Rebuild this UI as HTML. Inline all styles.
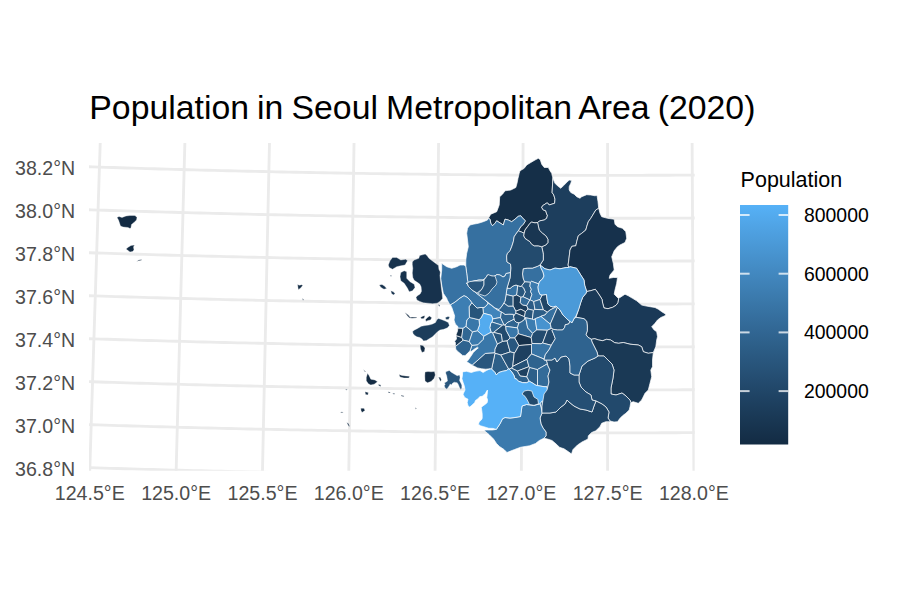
<!DOCTYPE html>
<html><head><meta charset="utf-8"><style>
html,body{margin:0;padding:0;background:#fff;}
svg{display:block;font-family:"Liberation Sans",sans-serif;}
</style></head><body>
<svg width="900" height="600" viewBox="0 0 900 600">
<defs>
<clipPath id="pc"><rect x="89.0" y="143.0" width="605.7" height="327.7"/></clipPath>
<linearGradient id="lg" x1="0" y1="1" x2="0" y2="0"><stop offset="0.00" stop-color="#132b43"/><stop offset="0.10" stop-color="#193753"/><stop offset="0.20" stop-color="#1f4364"/><stop offset="0.30" stop-color="#265075"/><stop offset="0.40" stop-color="#2c5d86"/><stop offset="0.50" stop-color="#336a98"/><stop offset="0.60" stop-color="#3a78aa"/><stop offset="0.70" stop-color="#4186bd"/><stop offset="0.80" stop-color="#4894d0"/><stop offset="0.90" stop-color="#4fa2e3"/><stop offset="1.00" stop-color="#56b1f7"/></linearGradient>
</defs>
<rect width="900" height="600" fill="#fff"/>
<text x="89.3" y="119.4" font-size="33.8px" word-spacing="-1.3px" fill="#000">Population in Seoul Metropolitan Area (2020)</text>
<g clip-path="url(#pc)" fill="none" stroke="#EBEBEB" stroke-width="2.85"><polyline points="88.51,510.59 88.64,506.30 88.78,502.01 88.91,497.71 89.05,493.42 89.18,489.13 89.31,484.83 89.45,480.54 89.58,476.25 89.72,471.95 89.85,467.66 89.99,463.37 90.12,459.07 90.26,454.78 90.39,450.49 90.53,446.19 90.66,441.90 90.80,437.61 90.93,433.31 91.07,429.02 91.20,424.73 91.34,420.43 91.47,416.14 91.61,411.85 91.75,407.55 91.88,403.26 92.02,398.97 92.15,394.67 92.29,390.38 92.42,386.09 92.56,381.79 92.70,377.50 92.83,373.21 92.97,368.91 93.11,364.62 93.24,360.33 93.38,356.03 93.51,351.74 93.65,347.45 93.79,343.15 93.92,338.86 94.06,334.56 94.20,330.27 94.33,325.98 94.47,321.68 94.61,317.39 94.75,313.10 94.88,308.80 95.02,304.51 95.16,300.22 95.29,295.92 95.43,291.63 95.57,287.33 95.71,283.04 95.84,278.75 95.98,274.45 96.12,270.16 96.26,265.87 96.39,261.57 96.53,257.28 96.67,252.98 96.81,248.69 96.95,244.40 97.08,240.10 97.22,235.81 97.36,231.51 97.50,227.22 97.64,222.93 97.78,218.63 97.91,214.34 98.05,210.05 98.19,205.75 98.33,201.46 98.47,197.16 98.61,192.87 98.75,188.58 98.89,184.28 99.02,179.99 99.16,175.69 99.30,171.40 99.44,167.11 99.58,162.81 99.72,158.52 99.86,154.22 100.00,149.93 100.14,145.64 100.28,141.34 100.42,137.05 100.56,132.75 100.70,128.46 100.84,124.16 100.98,119.87 101.12,115.58 101.26,111.28 101.40,106.99 101.54,102.69 101.68,98.40 101.82,94.11 101.96,89.81 102.10,85.52 102.24,81.22"/><polyline points="175.04,513.07 175.15,508.78 175.27,504.49 175.38,500.19 175.49,495.90 175.60,491.61 175.71,487.32 175.83,483.02 175.94,478.73 176.05,474.44 176.16,470.14 176.28,465.85 176.39,461.56 176.50,457.27 176.61,452.97 176.73,448.68 176.84,444.39 176.95,440.09 177.06,435.80 177.18,431.51 177.29,427.22 177.40,422.92 177.51,418.63 177.63,414.34 177.74,410.04 177.85,405.75 177.97,401.46 178.08,397.17 178.19,392.87 178.31,388.58 178.42,384.29 178.53,379.99 178.65,375.70 178.76,371.41 178.87,367.11 178.99,362.82 179.10,358.53 179.21,354.24 179.33,349.94 179.44,345.65 179.55,341.36 179.67,337.06 179.78,332.77 179.90,328.48 180.01,324.18 180.12,319.89 180.24,315.60 180.35,311.30 180.47,307.01 180.58,302.72 180.70,298.42 180.81,294.13 180.92,289.84 181.04,285.54 181.15,281.25 181.27,276.96 181.38,272.66 181.50,268.37 181.61,264.08 181.73,259.78 181.84,255.49 181.96,251.20 182.07,246.90 182.19,242.61 182.30,238.32 182.42,234.02 182.53,229.73 182.65,225.44 182.76,221.14 182.88,216.85 182.99,212.56 183.11,208.26 183.22,203.97 183.34,199.68 183.46,195.38 183.57,191.09 183.69,186.80 183.80,182.50 183.92,178.21 184.03,173.92 184.15,169.62 184.27,165.33 184.38,161.03 184.50,156.74 184.61,152.45 184.73,148.15 184.85,143.86 184.96,139.57 185.08,135.27 185.20,130.98 185.31,126.69 185.43,122.39 185.55,118.10 185.66,113.80 185.78,109.51 185.90,105.22 186.01,100.92 186.13,96.63 186.25,92.33 186.36,88.04 186.48,83.75"/><polyline points="261.57,515.10 261.66,510.81 261.75,506.51 261.84,502.22 261.93,497.93 262.02,493.64 262.11,489.35 262.19,485.05 262.28,480.76 262.37,476.47 262.46,472.18 262.55,467.88 262.64,463.59 262.73,459.30 262.82,455.01 262.91,450.71 263.00,446.42 263.09,442.13 263.18,437.84 263.27,433.54 263.36,429.25 263.45,424.96 263.54,420.67 263.63,416.37 263.73,412.08 263.82,407.79 263.91,403.50 264.00,399.20 264.09,394.91 264.18,390.62 264.27,386.33 264.36,382.03 264.45,377.74 264.54,373.45 264.63,369.16 264.72,364.86 264.81,360.57 264.90,356.28 264.99,351.98 265.09,347.69 265.18,343.40 265.27,339.11 265.36,334.81 265.45,330.52 265.54,326.23 265.63,321.94 265.72,317.64 265.81,313.35 265.91,309.06 266.00,304.76 266.09,300.47 266.18,296.18 266.27,291.89 266.36,287.59 266.46,283.30 266.55,279.01 266.64,274.71 266.73,270.42 266.82,266.13 266.91,261.84 267.01,257.54 267.10,253.25 267.19,248.96 267.28,244.66 267.37,240.37 267.47,236.08 267.56,231.78 267.65,227.49 267.74,223.20 267.83,218.90 267.93,214.61 268.02,210.32 268.11,206.03 268.20,201.73 268.30,197.44 268.39,193.15 268.48,188.85 268.57,184.56 268.67,180.27 268.76,175.97 268.85,171.68 268.94,167.39 269.04,163.09 269.13,158.80 269.22,154.51 269.32,150.21 269.41,145.92 269.50,141.63 269.59,137.33 269.69,133.04 269.78,128.75 269.87,124.45 269.97,120.16 270.06,115.87 270.15,111.57 270.25,107.28 270.34,102.99 270.43,98.69 270.53,94.40 270.62,90.11 270.71,85.81"/><polyline points="348.09,516.67 348.15,512.38 348.22,508.09 348.29,503.80 348.35,499.51 348.42,495.22 348.49,490.92 348.56,486.63 348.62,482.34 348.69,478.05 348.76,473.76 348.82,469.46 348.89,465.17 348.96,460.88 349.03,456.59 349.09,452.29 349.16,448.00 349.23,443.71 349.30,439.42 349.36,435.13 349.43,430.83 349.50,426.54 349.57,422.25 349.64,417.96 349.70,413.67 349.77,409.37 349.84,405.08 349.91,400.79 349.97,396.50 350.04,392.20 350.11,387.91 350.18,383.62 350.25,379.33 350.31,375.03 350.38,370.74 350.45,366.45 350.52,362.16 350.59,357.87 350.65,353.57 350.72,349.28 350.79,344.99 350.86,340.70 350.93,336.40 351.00,332.11 351.06,327.82 351.13,323.53 351.20,319.23 351.27,314.94 351.34,310.65 351.41,306.36 351.48,302.06 351.54,297.77 351.61,293.48 351.68,289.19 351.75,284.89 351.82,280.60 351.89,276.31 351.96,272.01 352.03,267.72 352.09,263.43 352.16,259.14 352.23,254.84 352.30,250.55 352.37,246.26 352.44,241.97 352.51,237.67 352.58,233.38 352.65,229.09 352.72,224.79 352.78,220.50 352.85,216.21 352.92,211.92 352.99,207.62 353.06,203.33 353.13,199.04 353.20,194.74 353.27,190.45 353.34,186.16 353.41,181.87 353.48,177.57 353.55,173.28 353.62,168.99 353.69,164.69 353.76,160.40 353.83,156.11 353.90,151.81 353.96,147.52 354.03,143.23 354.10,138.94 354.17,134.64 354.24,130.35 354.31,126.06 354.38,121.76 354.45,117.47 354.52,113.18 354.59,108.88 354.66,104.59 354.73,100.30 354.80,96.00 354.87,91.71 354.94,87.42"/><polyline points="434.60,517.80 434.64,513.51 434.69,509.22 434.73,504.93 434.78,500.63 434.82,496.34 434.87,492.05 434.91,487.76 434.96,483.47 435.00,479.17 435.05,474.88 435.09,470.59 435.14,466.30 435.18,462.01 435.22,457.72 435.27,453.42 435.31,449.13 435.36,444.84 435.40,440.55 435.45,436.26 435.50,431.96 435.54,427.67 435.59,423.38 435.63,419.09 435.68,414.80 435.72,410.50 435.77,406.21 435.81,401.92 435.86,397.63 435.90,393.34 435.95,389.04 435.99,384.75 436.04,380.46 436.08,376.17 436.13,371.88 436.17,367.58 436.22,363.29 436.26,359.00 436.31,354.71 436.36,350.42 436.40,346.12 436.45,341.83 436.49,337.54 436.54,333.25 436.58,328.95 436.63,324.66 436.67,320.37 436.72,316.08 436.77,311.78 436.81,307.49 436.86,303.20 436.90,298.91 436.95,294.62 436.99,290.32 437.04,286.03 437.09,281.74 437.13,277.45 437.18,273.15 437.22,268.86 437.27,264.57 437.32,260.28 437.36,255.98 437.41,251.69 437.45,247.40 437.50,243.11 437.55,238.81 437.59,234.52 437.64,230.23 437.68,225.94 437.73,221.64 437.78,217.35 437.82,213.06 437.87,208.76 437.91,204.47 437.96,200.18 438.01,195.89 438.05,191.59 438.10,187.30 438.15,183.01 438.19,178.72 438.24,174.42 438.28,170.13 438.33,165.84 438.38,161.54 438.42,157.25 438.47,152.96 438.52,148.67 438.56,144.37 438.61,140.08 438.66,135.79 438.70,131.49 438.75,127.20 438.80,122.91 438.84,118.62 438.89,114.32 438.94,110.03 438.98,105.74 439.03,101.44 439.08,97.15 439.12,92.86 439.17,88.56"/><polyline points="521.11,518.48 521.13,514.18 521.15,509.89 521.17,505.60 521.19,501.31 521.22,497.02 521.24,492.73 521.26,488.43 521.28,484.14 521.31,479.85 521.33,475.56 521.35,471.27 521.37,466.98 521.40,462.68 521.42,458.39 521.44,454.10 521.46,449.81 521.49,445.52 521.51,441.23 521.53,436.93 521.55,432.64 521.58,428.35 521.60,424.06 521.62,419.77 521.64,415.48 521.67,411.18 521.69,406.89 521.71,402.60 521.73,398.31 521.76,394.02 521.78,389.72 521.80,385.43 521.83,381.14 521.85,376.85 521.87,372.56 521.89,368.26 521.92,363.97 521.94,359.68 521.96,355.39 521.98,351.10 522.01,346.80 522.03,342.51 522.05,338.22 522.08,333.93 522.10,329.63 522.12,325.34 522.14,321.05 522.17,316.76 522.19,312.47 522.21,308.17 522.24,303.88 522.26,299.59 522.28,295.30 522.30,291.01 522.33,286.71 522.35,282.42 522.37,278.13 522.40,273.84 522.42,269.54 522.44,265.25 522.46,260.96 522.49,256.67 522.51,252.37 522.53,248.08 522.56,243.79 522.58,239.50 522.60,235.20 522.63,230.91 522.65,226.62 522.67,222.33 522.69,218.03 522.72,213.74 522.74,209.45 522.76,205.16 522.79,200.86 522.81,196.57 522.83,192.28 522.86,187.99 522.88,183.69 522.90,179.40 522.93,175.11 522.95,170.82 522.97,166.52 523.00,162.23 523.02,157.94 523.04,153.64 523.06,149.35 523.09,145.06 523.11,140.77 523.13,136.47 523.16,132.18 523.18,127.89 523.20,123.60 523.23,119.30 523.25,115.01 523.27,110.72 523.30,106.42 523.32,102.13 523.34,97.84 523.37,93.54 523.39,89.25"/><polyline points="607.61,518.70 607.61,514.41 607.61,510.12 607.61,505.83 607.61,501.53 607.61,497.24 607.61,492.95 607.61,488.66 607.61,484.37 607.61,480.08 607.61,475.79 607.61,471.49 607.61,467.20 607.61,462.91 607.61,458.62 607.61,454.33 607.61,450.04 607.61,445.74 607.61,441.45 607.61,437.16 607.61,432.87 607.61,428.58 607.61,424.28 607.61,419.99 607.61,415.70 607.61,411.41 607.61,407.12 607.61,402.83 607.61,398.53 607.61,394.24 607.61,389.95 607.61,385.66 607.61,381.37 607.61,377.07 607.61,372.78 607.61,368.49 607.61,364.20 607.61,359.91 607.61,355.61 607.61,351.32 607.61,347.03 607.61,342.74 607.61,338.45 607.61,334.15 607.61,329.86 607.61,325.57 607.61,321.28 607.61,316.99 607.61,312.69 607.61,308.40 607.61,304.11 607.61,299.82 607.61,295.52 607.61,291.23 607.61,286.94 607.61,282.65 607.61,278.36 607.61,274.06 607.61,269.77 607.61,265.48 607.61,261.19 607.61,256.89 607.61,252.60 607.61,248.31 607.61,244.02 607.61,239.72 607.61,235.43 607.61,231.14 607.61,226.85 607.61,222.55 607.61,218.26 607.61,213.97 607.61,209.68 607.61,205.38 607.61,201.09 607.61,196.80 607.61,192.51 607.61,188.21 607.61,183.92 607.61,179.63 607.61,175.34 607.61,171.04 607.61,166.75 607.61,162.46 607.61,158.17 607.61,153.87 607.61,149.58 607.61,145.29 607.61,141.00 607.61,136.70 607.61,132.41 607.61,128.12 607.61,123.82 607.61,119.53 607.61,115.24 607.61,110.95 607.61,106.65 607.61,102.36 607.61,98.07 607.61,93.77 607.61,89.48"/><polyline points="694.12,518.48 694.10,514.18 694.07,509.89 694.05,505.60 694.03,501.31 694.01,497.02 693.98,492.73 693.96,488.43 693.94,484.14 693.92,479.85 693.89,475.56 693.87,471.27 693.85,466.98 693.83,462.68 693.80,458.39 693.78,454.10 693.76,449.81 693.74,445.52 693.71,441.23 693.69,436.93 693.67,432.64 693.65,428.35 693.62,424.06 693.60,419.77 693.58,415.48 693.56,411.18 693.53,406.89 693.51,402.60 693.49,398.31 693.47,394.02 693.44,389.72 693.42,385.43 693.40,381.14 693.38,376.85 693.35,372.56 693.33,368.26 693.31,363.97 693.28,359.68 693.26,355.39 693.24,351.10 693.22,346.80 693.19,342.51 693.17,338.22 693.15,333.93 693.12,329.63 693.10,325.34 693.08,321.05 693.06,316.76 693.03,312.47 693.01,308.17 692.99,303.88 692.97,299.59 692.94,295.30 692.92,291.01 692.90,286.71 692.87,282.42 692.85,278.13 692.83,273.84 692.80,269.54 692.78,265.25 692.76,260.96 692.74,256.67 692.71,252.37 692.69,248.08 692.67,243.79 692.64,239.50 692.62,235.20 692.60,230.91 692.57,226.62 692.55,222.33 692.53,218.03 692.51,213.74 692.48,209.45 692.46,205.16 692.44,200.86 692.41,196.57 692.39,192.28 692.37,187.99 692.34,183.69 692.32,179.40 692.30,175.11 692.27,170.82 692.25,166.52 692.23,162.23 692.20,157.94 692.18,153.64 692.16,149.35 692.14,145.06 692.11,140.77 692.09,136.47 692.07,132.18 692.04,127.89 692.02,123.60 692.00,119.30 691.97,115.01 691.95,110.72 691.93,106.42 691.90,102.13 691.88,97.84 691.86,93.54 691.83,89.25"/><polyline points="55.33,466.54 62.23,466.77 69.14,467.00 76.04,467.22 82.95,467.44 89.85,467.66 96.76,467.88 103.66,468.09 110.57,468.30 117.47,468.51 124.38,468.71 131.28,468.91 138.19,469.11 145.09,469.30 152.00,469.49 158.90,469.68 165.81,469.87 172.71,470.05 179.62,470.23 186.52,470.41 193.42,470.59 200.33,470.76 207.23,470.93 214.14,471.09 221.04,471.26 227.94,471.42 234.85,471.58 241.75,471.73 248.66,471.88 255.56,472.03 262.46,472.18 269.37,472.32 276.27,472.46 283.18,472.60 290.08,472.73 296.98,472.86 303.89,472.99 310.79,473.12 317.69,473.24 324.60,473.36 331.50,473.48 338.40,473.59 345.31,473.70 352.21,473.81 359.11,473.91 366.02,474.02 372.92,474.12 379.82,474.21 386.72,474.31 393.63,474.40 400.53,474.49 407.43,474.57 414.34,474.65 421.24,474.73 428.14,474.81 435.05,474.88 441.95,474.95 448.85,475.02 455.75,475.09 462.66,475.15 469.56,475.21 476.46,475.26 483.36,475.32 490.27,475.37 497.17,475.42 504.07,475.46 510.98,475.50 517.88,475.54 524.78,475.58 531.68,475.61 538.59,475.64 545.49,475.67 552.39,475.69 559.29,475.71 566.20,475.73 573.10,475.75 580.00,475.76 586.90,475.77 593.81,475.78 600.71,475.78 607.61,475.79 614.51,475.78 621.42,475.78 628.32,475.77 635.22,475.76 642.12,475.75 649.03,475.73 655.93,475.71 662.83,475.69 669.73,475.67 676.64,475.64 683.54,475.61 690.44,475.58 697.35,475.54 704.25,475.50 711.15,475.46 718.05,475.42 724.96,475.37 731.86,475.32 738.76,475.26 745.66,475.21"/><polyline points="56.77,423.61 63.65,423.84 70.54,424.06 77.43,424.29 84.32,424.51 91.20,424.73 98.09,424.94 104.98,425.16 111.86,425.37 118.75,425.57 125.64,425.78 132.53,425.98 139.41,426.18 146.30,426.37 153.19,426.57 160.07,426.75 166.96,426.94 173.85,427.13 180.73,427.31 187.62,427.48 194.50,427.66 201.39,427.83 208.28,428.00 215.16,428.17 222.05,428.33 228.93,428.49 235.82,428.65 242.71,428.80 249.59,428.96 256.48,429.11 263.36,429.25 270.25,429.39 277.14,429.54 284.02,429.67 290.91,429.81 297.79,429.94 304.68,430.07 311.56,430.19 318.45,430.32 325.33,430.44 332.22,430.55 339.10,430.67 345.99,430.78 352.87,430.89 359.76,430.99 366.65,431.10 373.53,431.20 380.42,431.29 387.30,431.39 394.19,431.48 401.07,431.57 407.96,431.65 414.84,431.73 421.73,431.81 428.61,431.89 435.50,431.96 442.38,432.04 449.26,432.10 456.15,432.17 463.03,432.23 469.92,432.29 476.80,432.35 483.69,432.40 490.57,432.45 497.46,432.50 504.34,432.54 511.23,432.58 518.11,432.62 525.00,432.66 531.88,432.69 538.77,432.72 545.65,432.75 552.54,432.78 559.42,432.80 566.30,432.82 573.19,432.83 580.07,432.85 586.96,432.86 593.84,432.86 600.73,432.87 607.61,432.87 614.50,432.87 621.38,432.86 628.27,432.86 635.15,432.85 642.03,432.83 648.92,432.82 655.80,432.80 662.69,432.78 669.57,432.75 676.46,432.72 683.34,432.69 690.23,432.66 697.11,432.62 704.00,432.58 710.88,432.54 717.77,432.50 724.65,432.45 731.53,432.40 738.42,432.35 745.30,432.29"/><polyline points="58.21,380.67 65.08,380.90 71.95,381.13 78.82,381.35 85.69,381.57 92.56,381.79 99.43,382.01 106.30,382.22 113.17,382.43 120.04,382.64 126.91,382.85 133.77,383.05 140.64,383.25 147.51,383.44 154.38,383.63 161.25,383.82 168.12,384.01 174.98,384.20 181.85,384.38 188.72,384.56 195.59,384.73 202.46,384.90 209.33,385.07 216.19,385.24 223.06,385.40 229.93,385.56 236.80,385.72 243.67,385.88 250.53,386.03 257.40,386.18 264.27,386.33 271.14,386.47 278.00,386.61 284.87,386.75 291.74,386.88 298.61,387.01 305.47,387.14 312.34,387.27 319.21,387.39 326.08,387.51 332.94,387.63 339.81,387.75 346.68,387.86 353.54,387.97 360.41,388.07 367.28,388.17 374.14,388.27 381.01,388.37 387.88,388.47 394.75,388.56 401.61,388.65 408.48,388.73 415.35,388.81 422.21,388.89 429.08,388.97 435.95,389.04 442.81,389.12 449.68,389.18 456.55,389.25 463.41,389.31 470.28,389.37 477.15,389.43 484.01,389.48 490.88,389.53 497.75,389.58 504.61,389.62 511.48,389.67 518.35,389.71 525.21,389.74 532.08,389.77 538.95,389.81 545.81,389.83 552.68,389.86 559.55,389.88 566.41,389.90 573.28,389.91 580.15,389.93 587.01,389.94 593.88,389.94 600.75,389.95 607.61,389.95 614.48,389.95 621.34,389.94 628.21,389.94 635.08,389.93 641.94,389.91 648.81,389.90 655.68,389.88 662.54,389.86 669.41,389.83 676.28,389.81 683.14,389.77 690.01,389.74 696.88,389.71 703.74,389.67 710.61,389.62 717.48,389.58 724.34,389.53 731.21,389.48 738.08,389.43 744.94,389.37"/><polyline points="59.67,337.73 66.52,337.96 73.37,338.19 80.22,338.42 87.07,338.64 93.92,338.86 100.78,339.07 107.63,339.29 114.48,339.50 121.33,339.71 128.18,339.91 135.03,340.11 141.88,340.31 148.73,340.51 155.58,340.70 162.43,340.89 169.28,341.08 176.13,341.26 182.98,341.45 189.83,341.63 196.68,341.80 203.53,341.97 210.38,342.14 217.23,342.31 224.08,342.48 230.93,342.64 237.78,342.80 244.63,342.95 251.48,343.10 258.33,343.25 265.18,343.40 272.03,343.54 278.88,343.68 285.72,343.82 292.57,343.96 299.42,344.09 306.27,344.22 313.12,344.35 319.97,344.47 326.82,344.59 333.67,344.71 340.52,344.82 347.37,344.93 354.22,345.04 361.06,345.15 367.91,345.25 374.76,345.35 381.61,345.45 388.46,345.54 395.31,345.63 402.16,345.72 409.01,345.81 415.86,345.89 422.70,345.97 429.55,346.05 436.40,346.12 443.25,346.19 450.10,346.26 456.95,346.33 463.80,346.39 470.64,346.45 477.49,346.51 484.34,346.56 491.19,346.61 498.04,346.66 504.89,346.70 511.73,346.75 518.58,346.78 525.43,346.82 532.28,346.85 539.13,346.89 545.98,346.91 552.82,346.94 559.67,346.96 566.52,346.98 573.37,346.99 580.22,347.01 587.07,347.02 593.91,347.02 600.76,347.03 607.61,347.03 614.46,347.03 621.31,347.02 628.16,347.02 635.00,347.01 641.85,346.99 648.70,346.98 655.55,346.96 662.40,346.94 669.25,346.91 676.10,346.89 682.94,346.85 689.79,346.82 696.64,346.78 703.49,346.75 710.34,346.70 717.19,346.66 724.03,346.61 730.88,346.56 737.73,346.51 744.58,346.45"/><polyline points="61.13,294.79 67.96,295.02 74.80,295.25 81.63,295.48 88.46,295.70 95.29,295.92 102.13,296.14 108.96,296.35 115.79,296.56 122.62,296.77 129.46,296.98 136.29,297.18 143.12,297.38 149.95,297.58 156.78,297.77 163.62,297.96 170.45,298.15 177.28,298.33 184.11,298.51 190.94,298.69 197.78,298.87 204.61,299.04 211.44,299.21 218.27,299.38 225.10,299.55 231.93,299.71 238.76,299.87 245.60,300.02 252.43,300.17 259.26,300.32 266.09,300.47 272.92,300.62 279.75,300.76 286.58,300.89 293.41,301.03 300.24,301.16 307.08,301.29 313.91,301.42 320.74,301.54 327.57,301.66 334.40,301.78 341.23,301.90 348.06,302.01 354.89,302.12 361.72,302.22 368.55,302.33 375.38,302.43 382.21,302.52 389.04,302.62 395.87,302.71 402.71,302.80 409.54,302.89 416.37,302.97 423.20,303.05 430.03,303.13 436.86,303.20 443.69,303.27 450.52,303.34 457.35,303.41 464.18,303.47 471.01,303.53 477.84,303.58 484.67,303.64 491.50,303.69 498.33,303.74 505.16,303.78 511.99,303.82 518.82,303.86 525.65,303.90 532.48,303.93 539.31,303.96 546.14,303.99 552.97,304.02 559.80,304.04 566.63,304.06 573.46,304.07 580.29,304.09 587.12,304.10 593.95,304.10 600.78,304.11 607.61,304.11 614.44,304.11 621.27,304.10 628.10,304.10 634.93,304.09 641.76,304.07 648.59,304.06 655.42,304.04 662.25,304.02 669.08,303.99 675.91,303.96 682.74,303.93 689.57,303.90 696.40,303.86 703.23,303.82 710.06,303.78 716.89,303.74 723.72,303.69 730.55,303.64 737.38,303.58 744.21,303.53"/><polyline points="62.60,251.85 69.41,252.08 76.23,252.31 83.04,252.54 89.86,252.76 96.67,252.98 103.48,253.20 110.30,253.42 117.11,253.63 123.93,253.84 130.74,254.04 137.55,254.24 144.37,254.44 151.18,254.64 158.00,254.84 164.81,255.03 171.62,255.21 178.44,255.40 185.25,255.58 192.06,255.76 198.88,255.94 205.69,256.11 212.50,256.28 219.32,256.45 226.13,256.61 232.94,256.78 239.75,256.94 246.57,257.09 253.38,257.24 260.19,257.39 267.01,257.54 273.82,257.69 280.63,257.83 287.44,257.97 294.26,258.10 301.07,258.23 307.88,258.36 314.69,258.49 321.51,258.62 328.32,258.74 335.13,258.85 341.94,258.97 348.76,259.08 355.57,259.19 362.38,259.30 369.19,259.40 376.01,259.50 382.82,259.60 389.63,259.69 396.44,259.79 403.25,259.87 410.07,259.96 416.88,260.04 423.69,260.12 430.50,260.20 437.32,260.28 444.13,260.35 450.94,260.42 457.75,260.48 464.56,260.54 471.38,260.60 478.19,260.66 485.00,260.71 491.81,260.77 498.62,260.81 505.43,260.86 512.25,260.90 519.06,260.94 525.87,260.98 532.68,261.01 539.49,261.04 546.31,261.07 553.12,261.09 559.93,261.12 566.74,261.13 573.55,261.15 580.36,261.16 587.18,261.17 593.99,261.18 600.80,261.19 607.61,261.19 614.42,261.19 621.24,261.18 628.05,261.17 634.86,261.16 641.67,261.15 648.48,261.13 655.29,261.12 662.11,261.09 668.92,261.07 675.73,261.04 682.54,261.01 689.35,260.98 696.16,260.94 702.98,260.90 709.79,260.86 716.60,260.81 723.41,260.77 730.22,260.71 737.04,260.66 743.85,260.60"/><polyline points="64.07,208.91 70.87,209.14 77.67,209.37 84.46,209.60 91.26,209.82 98.05,210.05 104.85,210.26 111.64,210.48 118.44,210.69 125.23,210.90 132.03,211.10 138.83,211.31 145.62,211.51 152.42,211.71 159.21,211.90 166.01,212.09 172.80,212.28 179.60,212.47 186.39,212.65 193.19,212.83 199.98,213.00 206.78,213.18 213.57,213.35 220.37,213.52 227.16,213.68 233.95,213.84 240.75,214.00 247.54,214.16 254.34,214.31 261.13,214.46 267.93,214.61 274.72,214.76 281.52,214.90 288.31,215.04 295.10,215.17 301.90,215.31 308.69,215.44 315.49,215.56 322.28,215.69 329.07,215.81 335.87,215.93 342.66,216.04 349.46,216.15 356.25,216.26 363.04,216.37 369.84,216.47 376.63,216.57 383.43,216.67 390.22,216.77 397.01,216.86 403.81,216.95 410.60,217.03 417.39,217.12 424.19,217.20 430.98,217.28 437.78,217.35 444.57,217.42 451.36,217.49 458.16,217.56 464.95,217.62 471.74,217.68 478.54,217.74 485.33,217.79 492.12,217.84 498.92,217.89 505.71,217.93 512.50,217.98 519.30,218.02 526.09,218.05 532.88,218.09 539.68,218.12 546.47,218.14 553.26,218.17 560.06,218.19 566.85,218.21 573.64,218.23 580.44,218.24 587.23,218.25 594.02,218.26 600.82,218.26 607.61,218.26 614.40,218.26 621.20,218.26 627.99,218.25 634.79,218.24 641.58,218.23 648.37,218.21 655.17,218.19 661.96,218.17 668.75,218.14 675.55,218.12 682.34,218.09 689.13,218.05 695.93,218.02 702.72,217.98 709.51,217.93 716.31,217.89 723.10,217.84 729.89,217.79 736.69,217.74 743.48,217.68"/><polyline points="65.56,165.97 72.33,166.20 79.11,166.43 85.89,166.66 92.66,166.88 99.44,167.11 106.22,167.32 113.00,167.54 119.77,167.75 126.55,167.96 133.33,168.17 140.10,168.37 146.88,168.57 153.66,168.77 160.43,168.96 167.21,169.16 173.99,169.34 180.76,169.53 187.54,169.71 194.32,169.89 201.09,170.07 207.87,170.24 214.64,170.42 221.42,170.58 228.20,170.75 234.97,170.91 241.75,171.07 248.52,171.23 255.30,171.38 262.08,171.53 268.85,171.68 275.63,171.82 282.40,171.97 289.18,172.11 295.95,172.24 302.73,172.37 309.51,172.50 316.28,172.63 323.06,172.76 329.83,172.88 336.61,173.00 343.38,173.11 350.16,173.22 356.93,173.33 363.71,173.44 370.49,173.55 377.26,173.65 384.04,173.74 390.81,173.84 397.59,173.93 404.36,174.02 411.14,174.11 417.91,174.19 424.69,174.27 431.46,174.35 438.24,174.42 445.01,174.49 451.79,174.56 458.56,174.63 465.34,174.69 472.11,174.75 478.89,174.81 485.66,174.86 492.44,174.91 499.21,174.96 505.99,175.01 512.76,175.05 519.54,175.09 526.31,175.13 533.09,175.16 539.86,175.19 546.64,175.22 553.41,175.24 560.19,175.27 566.96,175.28 573.74,175.30 580.51,175.31 587.29,175.32 594.06,175.33 600.84,175.34 607.61,175.34 614.39,175.34 621.16,175.33 627.94,175.32 634.71,175.31 641.49,175.30 648.26,175.28 655.04,175.27 661.81,175.24 668.59,175.22 675.36,175.19 682.14,175.16 688.91,175.13 695.69,175.09 702.46,175.05 709.24,175.01 716.01,174.96 722.78,174.91 729.56,174.86 736.33,174.81 743.11,174.75"/></g>
<g font-size="19.6px" fill="#4D4D4D"><text x="75.2" y="468.54" text-anchor="end" dominant-baseline="central">36.8°N</text><text x="75.2" y="425.56" text-anchor="end" dominant-baseline="central">37.0°N</text><text x="75.2" y="382.58" text-anchor="end" dominant-baseline="central">37.2°N</text><text x="75.2" y="339.60" text-anchor="end" dominant-baseline="central">37.4°N</text><text x="75.2" y="296.62" text-anchor="end" dominant-baseline="central">37.6°N</text><text x="75.2" y="253.64" text-anchor="end" dominant-baseline="central">37.8°N</text><text x="75.2" y="210.65" text-anchor="end" dominant-baseline="central">38.0°N</text><text x="75.2" y="167.66" text-anchor="end" dominant-baseline="central">38.2°N</text><text x="89.76" y="492.6" text-anchor="middle" dominant-baseline="central">124.5°E</text><text x="176.15" y="492.6" text-anchor="middle" dominant-baseline="central">125.0°E</text><text x="262.50" y="492.6" text-anchor="middle" dominant-baseline="central">125.5°E</text><text x="348.81" y="492.6" text-anchor="middle" dominant-baseline="central">126.0°E</text><text x="435.09" y="492.6" text-anchor="middle" dominant-baseline="central">126.5°E</text><text x="521.35" y="492.6" text-anchor="middle" dominant-baseline="central">127.0°E</text><text x="607.61" y="492.6" text-anchor="middle" dominant-baseline="central">127.5°E</text><text x="693.87" y="492.6" text-anchor="middle" dominant-baseline="central">128.0°E</text></g>
<g stroke="#fff" stroke-width="0.7" stroke-linejoin="round"><path fill="#3670a0" d="M541.00,268.00 L540.00,265.00 L537.50,266.30 L532.50,268.10 L527.50,268.10 L524.18,268.63 L523.10,268.80 L522.50,274.00 L523.00,278.00 L524.43,281.81 L530.46,282.31 L531.50,281.34 L538.77,283.93 L539.00,283.00 L540.00,281.00 L542.50,279.00 L544.00,276.00 L543.00,272.00 L541.05,268.10Z"/><path fill="#2b5a82" d="M524.43,281.81 L524.50,282.00 L523.00,284.00 L521.28,286.15 L523.51,287.87 L525.22,291.98 L523.02,296.74 L529.82,299.91 L530.03,299.85 L531.94,294.51 L530.56,291.49 L531.36,289.23 L529.89,286.28 L530.46,282.31Z"/><path fill="#3b7aae" d="M538.00,287.00 L538.77,283.93 L531.50,281.34 L530.46,282.31 L529.89,286.28 L531.36,289.23 L530.56,291.49 L531.94,294.51 L530.03,299.85 L533.73,301.59 L540.00,299.50 L542.26,294.97 L542.00,295.00 L540.00,294.50 L539.70,293.80 L538.50,291.00 L538.12,288.00Z"/><path fill="#29577e" d="M516.56,294.97 L520.91,297.35 L523.02,296.74 L525.22,291.98 L523.51,287.87 L521.28,286.15 L521.00,286.50 L519.00,286.00 L517.61,285.54Z"/><path fill="#3773a4" d="M516.00,285.00 L513.00,286.00 L510.00,288.50 L507.00,288.00 L506.07,294.52 L513.15,296.20 L516.56,294.97 L517.61,285.54Z"/><path fill="#2a587f" d="M508.06,306.25 L513.15,306.25 L513.15,296.20 L506.07,294.52 L506.00,295.00 L505.00,301.00 L503.80,303.00Z"/><path fill="#1d3e5d" d="M520.91,297.35 L516.56,294.97 L513.15,296.20 L513.15,306.25 L513.39,306.39 L515.77,311.22 L520.86,309.26 L525.45,311.75 L528.04,309.01 L526.76,305.59 L522.49,304.91 L520.27,302.59Z"/><path fill="#1b3b58" d="M515.77,311.22 L515.69,313.10 L524.45,316.75 L525.45,311.75 L520.86,309.26Z"/><path fill="#346c9a" d="M522.49,304.91 L526.76,305.59 L529.82,299.91 L523.02,296.74 L520.91,297.35 L520.27,302.59Z"/><path fill="#2c5c86" d="M526.76,305.59 L528.04,309.01 L533.45,310.36 L534.92,309.38 L533.73,301.59 L530.03,299.85 L529.82,299.91Z"/><path fill="#306591" d="M543.44,309.81 L540.00,299.50 L533.73,301.59 L534.92,309.38Z"/><path fill="#204567" d="M547.28,312.27 L550.00,310.00 L553.00,308.50 L556.00,307.00 L556.80,306.80 L556.00,306.00 L553.00,307.00 L550.00,306.00 L548.00,304.00 L547.00,299.00 L546.50,294.50 L542.26,294.97 L540.00,299.50 L543.44,309.81Z"/><path fill="#28557b" d="M524.45,316.75 L524.95,317.85 L525.00,317.70 L528.30,318.30 L531.70,319.00 L532.35,319.23 L533.45,310.36 L528.04,309.01 L525.45,311.75Z"/><path fill="#2d5e87" d="M533.45,310.36 L532.35,319.23 L533.70,319.70 L536.30,318.30 L539.70,317.00 L542.30,315.70 L545.00,315.00 L547.00,312.50 L547.28,312.27 L543.44,309.81 L534.92,309.38Z"/><path fill="#234b6e" d="M524.45,316.75 L515.69,313.10 L513.51,316.12 L513.70,317.70 L514.30,320.30 L516.30,322.30 L519.00,323.00 L521.70,321.70 L524.30,319.70 L524.95,317.85Z"/><path fill="#2e618c" d="M502.00,306.00 L499.00,309.50 L495.00,308.00 L490.00,304.00 L485.00,300.00 L488.00,303.00 L491.30,305.30 L494.70,308.00 L497.30,310.00 L500.00,311.30 L502.70,312.70 L505.00,314.50 L505.53,314.47 L509.00,314.30 L513.30,314.40 L513.51,316.12 L515.69,313.10 L515.77,311.22 L513.39,306.39 L513.15,306.25 L508.06,306.25 L503.80,303.00Z"/><path fill="#4084bb" d="M491.40,315.39 L492.73,318.94 L500.55,317.51 L501.42,312.03 L500.00,311.30 L497.30,310.00 L496.12,309.09 L494.70,308.00 L491.30,305.30 L488.00,303.00 L487.00,305.00 L484.00,307.50 L482.78,307.50 L483.42,313.26Z"/><path fill="#356f9f" d="M502.43,325.33 L503.99,324.83 L500.55,317.51 L492.73,318.94 L491.87,322.03Z"/><path fill="#2f638e" d="M514.05,319.22 L513.70,317.70 L513.30,314.40 L509.00,314.30 L508.07,314.35 L505.00,314.50 L502.70,312.70 L501.42,312.03 L500.55,317.51 L503.99,324.83 L504.99,325.16 L507.15,322.68Z"/><path fill="#316794" d="M490.87,323.06 L489.81,327.63 L491.10,332.26 L492.57,332.83 L493.65,332.41 L502.43,325.33 L491.87,322.03Z"/><path fill="#234b6e" d="M493.65,332.41 L501.32,334.33 L502.22,341.51 L507.04,340.89 L510.26,338.00 L506.14,330.20 L505.80,326.36 L504.99,325.16 L503.99,324.83 L502.43,325.33Z"/><path fill="#306490" d="M507.15,322.68 L504.99,325.16 L505.80,326.36 L517.42,327.91 L518.83,322.96 L516.30,322.30 L514.30,320.30 L514.05,319.22Z"/><path fill="#3977a9" d="M505.80,326.36 L506.14,330.20 L510.26,338.00 L514.66,338.00 L518.25,333.78 L518.25,330.03 L517.42,327.91Z"/><path fill="#336a98" d="M518.25,330.03 L518.25,333.78 L531.18,337.58 L532.65,333.31 L527.69,327.93 L525.66,317.82 L525.00,317.70 L524.30,319.70 L521.70,321.70 L519.00,323.00 L518.83,322.96 L517.42,327.91Z"/><path fill="#3c7db1" d="M527.69,327.93 L532.65,333.31 L536.84,329.85 L535.20,318.89 L533.70,319.70 L531.70,319.00 L528.30,318.30 L525.66,317.82Z"/><path fill="#4793cf" d="M540.99,316.36 L539.70,317.00 L536.30,318.30 L535.20,318.89 L536.84,329.85 L547.40,330.26 L551.33,328.42 L550.33,324.05Z"/><path fill="#36709f" d="M557.45,307.45 L556.80,306.80 L556.00,307.00 L553.00,308.50 L550.00,310.00 L547.00,312.50 L545.00,315.00 L542.30,315.70 L540.99,316.36 L550.33,324.05Z"/><path fill="#28547a" d="M578.70,309.30 L576.00,316.00 L574.00,318.70 L576.00,317.30ZM553.24,329.37 L553.30,329.30 L557.30,330.00 L562.70,330.00 L564.70,327.30 L565.30,324.70 L568.70,324.00 L569.93,321.44 L567.00,319.00 L563.00,315.00 L560.00,310.00 L557.45,307.45 L550.33,324.05 L551.33,328.42ZM653.30,353.30 L655.80,346.70 L653.30,352.50 L652.50,360.00Z"/><path fill="#16314b" d="M518.25,333.78 L514.66,338.00 L518.83,345.57 L531.50,344.47 L532.14,343.47 L531.18,337.58Z"/><path fill="#234b6f" d="M536.84,329.85 L532.65,333.31 L531.18,337.58 L532.14,343.47 L540.92,343.77 L542.61,343.03 L547.40,330.26Z"/><path fill="#22486b" d="M551.33,328.42 L547.40,330.26 L542.61,343.03 L551.33,345.32 L552.00,344.00 L555.30,338.70 L553.30,333.30 L552.00,330.70 L553.24,329.37Z"/><path fill="#3773a4" d="M545.30,354.70 L549.30,349.30 L551.33,345.32 L542.61,343.03 L540.92,343.77 L532.14,343.47 L531.50,344.47 L531.50,353.94 L544.21,359.14 L544.99,355.97Z"/><path fill="#244c70" d="M497.27,343.99 L494.87,349.14 L494.68,352.89 L494.97,353.29 L500.91,355.03 L510.20,351.93 L507.04,340.89 L502.22,341.51Z"/><path fill="#29577f" d="M507.04,340.89 L510.20,351.93 L514.24,352.80 L515.06,352.48 L518.83,345.57 L514.66,338.00 L510.26,338.00Z"/><path fill="#28557b" d="M493.65,332.41 L492.57,332.83 L497.27,343.99 L502.22,341.51 L501.32,334.33Z"/><path fill="#53abef" d="M491.40,315.39 L483.42,313.26 L480.91,318.08 L478.93,319.69 L479.57,324.84 L477.35,330.69 L483.70,336.30 L491.10,332.26 L489.81,327.63 L490.87,323.06 L491.87,322.03 L492.73,318.94Z"/><path fill="#3977a9" d="M483.70,336.30 L483.14,339.36 L477.81,344.69 L471.90,345.30 L469.90,351.30 L471.50,351.30 L474.50,349.00 L477.50,347.20 L478.30,347.90 L475.80,350.00 L473.30,352.50 L471.70,355.00 L470.00,357.50 L468.30,360.00 L466.70,361.70 L469.20,363.30 L472.25,365.16 L485.36,353.51 L494.68,352.89 L494.87,349.14 L497.27,343.99 L492.57,332.83 L491.10,332.26Z"/><path fill="#2d5f88" d="M500.91,355.03 L494.97,353.29 L491.59,369.09 L495.00,372.50 L496.30,375.00 L498.80,372.50 L502.50,371.30 L506.30,370.60 L508.63,368.93Z"/><path fill="#29567d" d="M494.97,353.29 L494.68,352.89 L485.36,353.51 L472.25,365.16 L473.30,365.80 L477.50,367.90 L481.70,368.80 L485.80,369.20 L490.00,368.80 L490.49,369.00 L491.30,368.80 L491.59,369.09Z"/><path fill="#275277" d="M514.24,352.80 L510.20,351.93 L500.91,355.03 L508.63,368.93 L508.80,368.80 L509.13,369.13 L511.67,368.21 L512.74,366.38Z"/><path fill="#1e4060" d="M531.50,353.94 L531.50,344.47 L518.83,345.57 L515.06,352.48 L514.24,352.80 L512.74,366.38 L526.95,359.28 L526.97,359.09Z"/><path fill="#265176" d="M511.67,368.21 L517.45,371.10 L528.98,366.66 L526.95,359.28 L512.74,366.38Z"/><path fill="#2e618c" d="M517.45,371.10 L511.67,368.21 L509.13,369.13 L511.30,371.30 L513.80,375.00 L515.00,378.80 L516.00,378.70 L518.06,380.69 L518.70,381.30 L522.70,382.70 L526.70,382.70 L529.26,381.32 L526.86,376.77 L520.13,375.87Z"/><path fill="#1e4161" d="M520.13,375.87 L526.86,376.77 L529.62,367.39 L528.98,366.66 L517.45,371.10Z"/><path fill="#2d5f89" d="M529.26,381.32 L529.30,381.30 L532.00,382.70 L536.00,385.30 L537.50,385.56 L537.50,369.51 L529.62,367.39 L526.86,376.77Z"/><path fill="#2f638e" d="M526.95,359.28 L528.98,366.66 L529.62,367.39 L537.50,369.51 L547.44,363.77 L547.00,362.00 L546.00,360.00 L544.00,360.00 L544.21,359.14 L531.50,353.94 L526.97,359.09Z"/><path fill="#336b99" d="M537.50,385.56 L540.00,386.00 L544.00,386.70 L546.70,386.70 L547.34,388.66 L548.00,386.00 L549.00,382.00 L548.00,376.00 L550.00,370.00 L548.00,366.00 L547.44,363.77 L537.50,369.51ZM540.00,403.80 L541.50,409.00 L542.00,413.00 L542.00,406.00 L542.84,400.97 L541.50,401.50ZM610.00,421.00 L610.00,421.70 L610.91,421.23Z"/><path fill="#1c3d5b" d="M456.07,335.52 L456.50,339.00 L454.60,341.30 L455.40,342.50 L455.40,345.80 L455.48,346.47 L463.20,340.20 L461.73,337.41Z"/><path fill="#16324c" d="M457.85,327.96 L457.50,331.00 L456.00,335.00 L456.07,335.52 L461.73,337.41 L462.96,328.21Z"/><path fill="#316793" d="M465.93,326.32 L462.96,328.21 L461.73,337.41 L463.20,340.20 L469.30,341.61 L472.55,331.84Z"/><path fill="#2f638f" d="M471.90,345.30 L469.30,341.61 L463.20,340.20 L455.48,346.47 L455.80,349.20 L457.50,351.30 L460.00,353.30 L462.50,355.40 L465.00,355.80 L467.50,353.30 L469.60,351.30 L469.90,351.30Z"/><path fill="#3a79ac" d="M483.14,339.36 L483.70,336.30 L477.35,330.69 L472.55,331.84 L469.30,341.61 L471.90,345.30 L477.81,344.69Z"/><path fill="#3977a9" d="M479.57,324.84 L478.93,319.69 L469.41,317.41 L466.82,319.89 L465.93,326.32 L472.55,331.84 L477.35,330.69Z"/><path fill="#28557b" d="M469.05,306.81 L469.41,317.41 L478.93,319.69 L480.91,318.08 L483.42,313.26 L482.78,307.50 L480.00,307.50 L477.00,308.00 L475.00,306.00 L473.00,304.00 L471.92,302.56Z"/><path fill="#3d7eb3" d="M470.00,300.00 L467.00,297.00 L464.00,295.50 L460.00,298.00 L455.00,302.00 L450.38,304.77 L452.00,308.00 L452.11,308.35 L453.30,312.00 L454.70,316.00 L454.66,316.25 L454.00,320.00 L455.30,324.00 L458.00,326.70 L457.85,327.96 L462.96,328.21 L465.93,326.32 L466.82,319.89 L469.41,317.41 L469.05,306.81 L471.92,302.56Z"/><path fill="#152f48" d="M488.30,218.30 L490.80,214.20 L496.70,211.70 L499.20,205.00 L499.70,196.70 L502.50,194.20 L505.00,190.80 L510.80,190.00 L515.80,187.50 L517.00,183.30 L518.00,178.30 L519.20,173.30 L520.00,170.80 L524.20,168.30 L526.70,165.00 L530.80,162.50 L535.00,160.00 L538.30,158.30 L540.30,159.70 L541.70,164.20 L544.20,167.50 L548.30,167.50 L550.00,170.80 L551.70,173.30 L552.50,176.70 L552.90,178.30 L552.50,185.00 L552.10,192.50 L553.80,195.00 L555.00,199.20 L554.60,203.30 L551.70,204.20 L549.20,205.00 L547.50,202.90 L546.30,203.30 L542.50,205.80 L541.70,207.50 L543.30,210.00 L545.80,210.80 L546.70,214.20 L547.50,215.00 L546.70,218.30 L544.20,220.00 L540.00,220.80 L537.50,222.50 L535.00,222.90 L531.70,222.10 L530.00,223.30 L527.50,226.70 L525.00,230.00 L524.20,233.30 L521.70,232.10 L518.30,230.80 L519.20,229.20 L520.80,226.70 L523.30,224.20 L525.00,221.70 L525.00,220.40 L522.50,217.90 L520.80,215.80 L518.30,216.30 L515.00,219.20 L511.70,221.70 L508.30,220.00 L505.00,219.20 L503.30,225.00 L500.00,222.90 L496.70,220.80 L495.00,223.30 L492.50,225.80 L490.80,223.30 L490.00,219.20Z"/><path fill="#1d3e5d" d="M552.90,178.30 L555.00,183.30 L557.50,185.80 L560.80,188.30 L563.30,185.80 L566.70,182.50 L569.20,180.00 L571.70,180.40 L570.80,183.30 L569.20,186.70 L569.20,190.00 L570.80,192.50 L574.20,194.20 L576.70,196.70 L580.00,198.30 L581.70,196.70 L586.70,194.70 L590.80,195.00 L595.00,195.80 L597.00,195.30 L598.00,201.70 L598.70,208.30 L595.80,210.00 L590.80,218.30 L588.30,221.70 L586.70,226.70 L585.80,230.00 L581.70,233.30 L578.30,235.80 L576.70,241.70 L575.80,245.80 L571.90,246.30 L570.00,250.00 L569.40,255.00 L568.80,260.00 L568.10,265.00 L568.80,267.50 L566.30,267.50 L560.00,268.80 L555.00,268.10 L550.00,270.00 L545.00,268.80 L540.00,265.00 L543.30,260.00 L543.30,254.20 L542.50,250.00 L541.70,246.70 L545.80,245.00 L547.90,242.50 L547.90,239.20 L545.80,235.80 L542.50,233.30 L539.20,230.00 L538.30,225.80 L537.50,222.50 L540.00,220.80 L544.20,220.00 L546.70,218.30 L547.50,215.00 L546.70,214.20 L545.80,210.80 L543.30,210.00 L541.70,207.50 L542.50,205.80 L546.30,203.30 L547.50,202.90 L549.20,205.00 L551.70,204.20 L554.60,203.30 L555.00,199.20 L553.80,195.00 L552.10,192.50 L552.50,185.00Z"/><path fill="#16314c" d="M598.70,208.30 L600.00,213.30 L601.70,216.70 L607.50,218.30 L614.20,219.20 L615.00,224.20 L617.50,226.70 L622.50,228.30 L625.80,231.70 L626.70,238.30 L625.00,242.50 L620.00,245.00 L617.50,246.70 L614.20,250.80 L612.50,255.00 L611.70,256.70 L613.30,263.30 L614.20,270.00 L610.00,275.00 L609.20,278.30 L613.30,277.50 L617.50,277.50 L616.70,283.30 L615.00,290.00 L614.20,294.20 L618.30,298.30 L618.70,298.70 L618.00,302.70 L616.00,305.30 L612.70,307.30 L608.00,308.70 L604.00,308.00 L602.70,303.30 L602.00,299.30 L600.00,296.00 L597.30,292.00 L595.30,289.30 L590.70,290.70 L586.70,291.50 L584.70,285.30 L584.00,280.00 L580.80,275.00 L576.70,268.30 L570.00,266.70 L568.80,267.50 L568.10,265.00 L568.80,260.00 L569.40,255.00 L570.00,250.00 L571.90,246.30 L575.80,245.80 L576.70,241.70 L578.30,235.80 L581.70,233.30 L585.80,230.00 L586.70,226.70 L588.30,221.70 L590.80,218.30 L595.80,210.00Z"/><path fill="#1a3957" d="M618.30,298.30 L620.00,297.50 L625.00,294.20 L628.30,295.80 L632.50,298.30 L636.70,300.80 L641.70,305.00 L645.00,305.80 L650.00,306.70 L655.00,307.50 L658.30,309.20 L661.70,311.70 L665.80,314.20 L665.00,315.80 L660.80,317.50 L657.50,320.00 L655.00,323.30 L651.70,326.70 L654.20,330.00 L656.70,331.70 L657.50,336.70 L656.70,340.00 L655.80,346.70 L653.30,352.50 L648.30,353.30 L643.30,351.70 L641.70,346.70 L638.30,345.00 L630.00,344.20 L623.30,342.50 L618.70,343.30 L614.70,342.70 L610.70,340.00 L606.70,339.30 L602.70,340.70 L598.70,340.00 L594.70,338.70 L591.30,339.30 L588.00,337.30 L586.00,334.70 L587.30,330.70 L587.30,326.00 L586.70,321.30 L584.00,318.70 L580.00,318.00 L576.00,317.30 L578.70,309.30 L580.70,302.70 L582.70,297.30 L586.00,293.30 L586.70,291.50 L590.70,290.70 L595.30,289.30 L597.30,292.00 L600.00,296.00 L602.00,299.30 L602.70,303.30 L604.00,308.00 L608.00,308.70 L612.70,307.30 L616.00,305.30 L618.00,302.70 L618.70,298.70Z"/><path fill="#1a3955" d="M653.30,352.50 L652.50,360.00 L652.50,366.70 L650.80,370.00 L651.70,376.70 L650.00,383.30 L648.30,390.00 L645.00,393.30 L641.70,400.00 L638.30,403.30 L633.30,401.70 L630.80,402.50 L630.00,400.00 L626.00,396.00 L622.00,393.00 L616.00,395.00 L611.00,394.00 L611.00,388.00 L613.00,378.00 L614.00,370.00 L612.00,364.00 L608.00,360.00 L604.00,356.00 L598.00,356.00 L597.00,352.00 L594.00,346.00 L592.00,342.00 L591.30,339.30 L594.70,338.70 L598.70,340.00 L602.70,340.70 L606.70,339.30 L610.70,340.00 L614.70,342.70 L618.70,343.30 L623.30,342.50 L630.00,344.20 L638.30,345.00 L641.70,346.70 L643.30,351.70 L648.30,353.30Z"/><path fill="#22496c" d="M630.00,400.00 L630.80,402.50 L630.00,406.70 L629.20,410.00 L625.80,413.30 L622.50,415.80 L620.00,418.30 L617.50,421.70 L614.00,422.00 L610.00,421.00 L608.00,418.00 L609.00,412.00 L606.00,407.00 L602.00,404.00 L596.00,401.00 L592.00,400.00 L591.00,395.00 L586.00,392.00 L581.00,387.00 L579.00,382.00 L579.00,375.00 L582.00,366.00 L588.00,361.00 L595.00,358.00 L598.00,356.00 L604.00,356.00 L608.00,360.00 L612.00,364.00 L614.00,370.00 L613.00,378.00 L611.00,388.00 L611.00,394.00 L616.00,395.00 L622.00,393.00 L626.00,396.00Z"/><path fill="#204464" d="M596.00,401.00 L602.00,404.00 L606.00,407.00 L609.00,412.00 L608.00,418.00 L610.00,421.00 L610.00,421.70 L605.80,421.70 L601.70,423.30 L600.00,426.70 L595.80,430.80 L591.70,432.50 L588.30,435.80 L588.00,439.00 L585.00,440.50 L582.00,442.00 L577.50,445.00 L573.00,449.50 L571.50,454.00 L568.50,451.80 L564.00,448.80 L559.50,447.30 L556.50,444.30 L552.00,440.50 L547.50,439.00 L543.80,438.30 L546.00,436.00 L546.00,432.00 L543.00,428.00 L541.00,424.00 L540.00,418.00 L542.00,413.00 L550.00,413.00 L556.00,412.00 L561.00,407.00 L565.00,404.00 L567.00,400.00 L569.00,402.00 L574.00,406.00 L580.00,409.00 L586.00,410.00 L592.00,412.00 L594.00,406.00Z"/><path fill="#3b7aad" d="M542.00,413.00 L540.00,418.00 L541.00,424.00 L543.00,428.00 L546.00,432.00 L546.00,436.00 L543.80,438.30 L539.30,440.50 L535.50,443.50 L529.50,445.80 L525.00,446.50 L520.50,447.30 L514.50,449.50 L507.00,452.50 L504.00,449.50 L499.50,446.50 L496.50,443.50 L493.50,439.00 L489.00,434.50 L485.30,431.50 L484.40,430.00 L487.50,430.00 L492.50,430.00 L496.30,429.40 L500.00,423.80 L502.50,418.80 L505.00,417.50 L510.00,418.10 L515.00,417.50 L520.50,416.50 L522.00,406.00 L526.50,404.50 L534.00,405.30 L540.00,403.80 L541.50,409.00Z"/><path fill="#56b1f7" d="M496.30,429.40 L493.00,428.40 L488.80,428.30 L486.30,427.50 L483.80,426.70 L480.50,425.80 L478.40,424.20 L479.30,421.70 L481.30,420.00 L482.20,418.30 L482.20,414.20 L481.80,410.80 L481.30,407.50 L483.00,405.80 L485.50,404.20 L487.20,402.50 L487.60,400.00 L486.80,397.50 L487.20,394.20 L487.60,390.00 L486.80,390.80 L485.50,393.30 L483.80,395.00 L482.20,396.30 L479.70,396.70 L478.00,398.80 L475.50,400.40 L474.70,402.50 L472.20,405.00 L469.70,407.10 L468.00,405.80 L467.20,402.50 L468.00,399.20 L464.70,397.50 L463.00,394.20 L465.00,390.00 L464.40,386.30 L463.10,382.50 L461.90,378.80 L462.50,375.00 L462.50,371.90 L466.30,371.30 L471.30,372.50 L475.00,371.30 L480.00,370.60 L483.10,372.50 L486.30,370.60 L488.80,369.40 L491.30,368.80 L495.00,372.50 L496.30,375.00 L498.80,372.50 L502.50,371.30 L506.30,370.60 L508.80,368.80 L511.30,371.30 L513.80,375.00 L515.00,378.80 L516.00,378.70 L518.70,381.30 L522.70,382.70 L526.70,382.70 L529.30,381.30 L532.00,382.70 L536.00,385.30 L540.00,386.00 L544.00,386.70 L546.70,386.70 L548.00,390.70 L546.70,396.00 L545.30,400.00 L541.50,401.50 L540.00,403.80 L534.00,405.30 L526.50,404.50 L522.00,406.00 L520.50,416.50 L515.00,417.50 L510.00,418.10 L505.00,417.50 L502.50,418.80 L500.00,423.80Z"/><path fill="#234b6e" d="M522.00,394.00 L524.30,391.00 L528.00,390.30 L531.80,391.00 L534.00,397.00 L537.80,399.30 L538.50,403.80 L534.00,405.30 L529.50,404.50 L527.30,400.00 L525.00,396.30Z"/><path fill="#254f74" d="M542.00,413.00 L542.00,406.00 L543.00,400.00 L544.00,394.00 L547.00,390.00 L548.00,386.00 L549.00,382.00 L548.00,376.00 L550.00,370.00 L548.00,366.00 L547.00,362.00 L546.00,360.00 L552.00,360.00 L555.00,358.00 L557.00,362.00 L561.00,357.00 L566.00,356.00 L569.00,359.00 L570.00,366.00 L570.00,373.00 L574.00,375.00 L579.00,375.00 L579.00,382.00 L581.00,387.00 L586.00,392.00 L591.00,395.00 L592.00,400.00 L596.00,401.00 L594.00,406.00 L592.00,412.00 L586.00,410.00 L580.00,409.00 L574.00,406.00 L569.00,402.00 L567.00,400.00 L565.00,404.00 L561.00,407.00 L556.00,412.00 L550.00,413.00Z"/><path fill="#2f638f" d="M552.00,330.70 L553.30,329.30 L557.30,330.00 L562.70,330.00 L564.70,327.30 L565.30,324.70 L568.70,324.00 L570.00,321.30 L572.00,322.70 L574.00,318.70 L576.00,317.30 L580.00,318.00 L584.00,318.70 L586.70,321.30 L587.30,326.00 L587.30,330.70 L586.00,334.70 L588.00,337.30 L591.30,339.30 L592.00,342.00 L594.00,346.00 L597.00,352.00 L598.00,356.00 L595.00,358.00 L588.00,361.00 L582.00,366.00 L579.00,375.00 L574.00,375.00 L570.00,373.00 L570.00,366.00 L569.00,359.00 L566.00,356.00 L561.00,357.00 L557.00,362.00 L555.00,358.00 L552.00,360.00 L546.00,360.00 L544.00,360.00 L545.30,354.70 L549.30,349.30 L552.00,344.00 L555.30,338.70 L553.30,333.30Z"/><path fill="#4b9ad8" d="M540.00,265.00 L545.00,268.80 L550.00,270.00 L555.00,268.10 L560.00,268.80 L566.30,267.50 L568.80,267.50 L570.00,266.70 L576.70,268.30 L580.80,275.00 L584.00,280.00 L584.70,285.30 L586.70,291.50 L586.00,293.30 L582.70,297.30 L580.70,302.70 L578.70,309.30 L576.00,316.00 L574.00,318.70 L572.00,322.70 L570.00,321.50 L567.00,319.00 L563.00,315.00 L560.00,310.00 L556.00,306.00 L553.00,307.00 L550.00,306.00 L548.00,304.00 L547.00,299.00 L546.50,294.50 L542.00,295.00 L540.00,294.50 L538.50,291.00 L538.00,287.00 L539.00,283.00 L540.00,281.00 L542.50,279.00 L544.00,276.00 L543.00,272.00 L541.00,268.00Z"/><path fill="#3670a0" d="M467.50,228.30 L470.00,225.00 L473.30,224.20 L478.30,223.30 L483.30,221.70 L487.50,220.00 L488.30,218.30 L490.00,219.20 L490.80,223.30 L492.50,225.80 L495.00,223.30 L496.70,220.80 L500.00,222.90 L503.30,225.00 L505.00,219.20 L508.30,220.00 L511.70,221.70 L515.00,219.20 L518.30,216.30 L520.80,215.80 L522.50,217.90 L525.00,220.40 L525.00,221.70 L523.30,224.20 L520.80,226.70 L519.20,229.20 L518.30,230.80 L515.80,234.20 L514.20,236.70 L513.30,241.70 L511.70,246.70 L510.00,250.80 L507.50,253.30 L506.70,255.80 L506.70,258.00 L507.00,262.00 L510.50,264.00 L511.00,268.00 L510.50,272.50 L509.00,273.00 L506.00,273.50 L505.00,276.00 L503.00,277.00 L500.00,275.00 L497.00,274.50 L494.00,276.50 L490.00,276.00 L487.50,275.00 L486.00,278.00 L483.00,280.00 L479.00,280.00 L474.00,281.00 L470.00,282.00 L468.30,283.30 L467.50,280.00 L466.70,273.30 L465.80,266.70 L465.80,260.00 L466.70,253.30 L468.30,246.70 L467.50,240.00 L466.70,233.30Z"/><path fill="#3772a3" d="M441.70,263.30 L446.70,266.70 L451.70,268.30 L456.70,266.70 L460.00,265.00 L464.20,265.00 L465.80,266.70 L466.70,273.30 L467.50,280.00 L468.30,283.30 L466.50,283.00 L470.00,288.00 L475.00,292.00 L480.00,296.00 L485.00,300.00 L488.00,303.00 L487.00,305.00 L484.00,307.50 L480.00,307.50 L477.00,308.00 L475.00,306.00 L473.00,304.00 L470.00,300.00 L467.00,297.00 L464.00,295.50 L460.00,298.00 L455.00,302.00 L450.00,305.00 L447.30,300.00 L446.70,298.30 L443.30,293.30 L441.70,285.00 L440.80,278.30 L441.70,270.00 L441.70,265.00Z"/><path fill="#234b6e" d="M518.30,230.80 L521.70,232.10 L524.20,233.30 L523.80,235.80 L525.00,238.30 L527.50,240.00 L530.00,241.70 L531.70,244.20 L534.20,245.80 L538.30,245.80 L541.70,246.70 L542.50,250.00 L543.30,254.20 L543.30,260.00 L540.00,265.00 L537.50,266.30 L532.50,268.10 L527.50,268.10 L523.10,268.80 L522.50,274.00 L523.00,278.00 L524.50,282.00 L523.00,284.00 L521.00,286.50 L519.00,286.00 L516.00,285.00 L513.00,286.00 L510.00,288.50 L507.00,288.00 L508.50,283.00 L510.00,278.00 L510.50,272.50 L511.00,268.00 L510.50,264.00 L507.00,262.00 L506.70,258.00 L506.70,255.80 L507.50,253.30 L510.00,250.80 L511.70,246.70 L513.30,241.70 L514.20,236.70 L515.80,234.20Z"/><path fill="#193652" d="M524.20,233.30 L525.00,230.00 L527.50,226.70 L530.00,223.30 L531.70,222.10 L535.00,222.90 L537.50,222.50 L538.30,225.80 L539.20,230.00 L542.50,233.30 L545.80,235.80 L547.90,239.20 L547.90,242.50 L545.80,245.00 L541.70,246.70 L538.30,245.80 L534.20,245.80 L531.70,244.20 L530.00,241.70 L527.50,240.00 L525.00,238.30 L523.80,235.80Z"/><path fill="#3670a0" d="M468.30,283.30 L470.00,282.00 L474.00,281.00 L479.00,280.00 L483.00,280.00 L486.00,278.00 L487.50,275.00 L490.00,276.00 L494.00,276.50 L497.00,274.50 L500.00,275.00 L503.00,277.00 L505.00,276.00 L506.00,273.50 L509.00,273.00 L510.50,272.50 L510.00,278.00 L508.50,283.00 L507.00,288.00 L506.00,295.00 L505.00,301.00 L502.00,306.00 L499.00,309.50 L495.00,308.00 L490.00,304.00 L485.00,300.00 L480.00,296.00 L475.00,292.00 L470.00,288.00 L466.50,283.00Z"/><path fill="#29567d" d="M467.00,283.00 L470.00,281.50 L475.00,281.00 L481.00,281.00 L484.00,280.00 L484.00,285.00 L482.00,289.00 L479.00,291.50 L477.00,293.00 L472.00,290.00 L468.50,286.50Z"/><path fill="#29567d" d="M484.00,280.00 L487.00,276.00 L488.00,274.50 L492.00,276.00 L495.00,276.00 L497.00,282.00 L496.00,285.00 L492.00,289.00 L490.00,292.00 L488.00,294.00 L485.00,296.00 L482.00,295.00 L478.00,293.50 L482.00,289.00 L484.00,285.00Z"/></g><g stroke="#fff" stroke-width="0.35" stroke-linejoin="round"><polygon fill="#132b43" points="117.0,217.5 119.0,216.5 122.0,217.5 126.0,216.0 130.0,215.5 135.0,215.5 137.0,217.5 136.5,220.0 134.0,222.5 131.5,224.5 131.0,227.5 130.0,228.5 128.0,227.5 123.0,227.0 120.5,226.0 119.5,223.0 118.5,220.0"/><polygon fill="#132b43" points="126.0,249.0 128.5,247.0 131.0,245.5 134.5,245.0 133.5,247.0 134.0,250.0 132.5,251.5 130.0,252.0 128.5,251.0 127.5,250.0"/><polygon fill="#132b43" points="136.5,262.0 138.5,260.0 142.0,259.5 141.0,260.5 138.0,261.0"/><polygon fill="#132b43" points="297.5,284.5 299.5,285.3 301.5,284.8 302.8,285.3 301.5,287.0 300.0,288.5 298.5,289.8 298.0,288.0 297.8,286.0"/><polygon fill="#132b43" points="302.3,298.3 303.8,299.5 303.0,300.5"/><polygon fill="#17324d" points="412.3,261.9 414.2,260.1 418.8,258.3 419.7,255.5 423.3,254.6 425.2,254.1 427.0,255.5 428.9,258.3 432.5,261.0 436.2,263.8 438.5,265.6 438.9,269.3 440.3,272.0 439.9,275.7 440.3,279.4 440.8,283.0 441.2,286.7 441.7,290.4 442.2,294.0 442.6,298.6 439.9,301.4 437.1,303.2 432.5,303.7 427.9,303.2 423.3,302.8 419.7,301.4 416.9,300.0 416.0,297.2 417.8,295.4 420.1,294.0 421.5,291.3 421.1,286.7 419.7,284.0 416.9,282.1 414.2,280.3 412.8,277.5 412.3,272.9 412.8,268.3 412.3,264.7"/><polygon fill="#17324d" points="388.3,265.0 390.0,260.8 392.5,257.5 396.7,257.5 400.8,260.0 405.8,259.2 407.5,260.8 405.0,265.0 400.8,265.8 396.7,266.7 392.5,269.2 389.2,267.5"/><polygon fill="#17324d" points="400.8,272.5 404.2,270.8 406.7,271.7 406.7,278.3 410.0,281.7 414.2,284.2 415.0,287.5 412.5,290.8 409.2,291.7 407.5,288.3 404.2,283.3 400.8,280.8 400.0,276.7"/><polygon fill="#17324d" points="379.2,285.0 382.0,284.5 384.5,286.0 386.7,288.5 384.0,289.2 381.0,287.5"/><polygon fill="#17324d" points="390.8,290.8 393.0,291.5 395.0,293.5 393.5,295.0 391.5,293.5"/><polygon fill="#17324d" points="390.0,275.0 391.7,275.5 391.0,276.7"/><polygon fill="#1c3d5b" points="412.6,331.5 414.5,330.0 417.5,328.5 421.3,326.3 425.0,325.5 428.8,325.1 432.5,324.0 435.5,322.5 437.0,319.5 438.5,318.4 441.5,319.5 445.3,321.0 448.3,322.5 449.4,325.5 447.5,327.8 443.8,329.3 440.0,330.0 437.8,331.5 435.5,333.8 432.5,336.8 428.8,339.0 426.5,340.5 423.5,340.9 422.0,339.0 419.8,337.5 416.8,336.8 414.5,335.3 413.0,333.4"/><polygon fill="#1c3d5b" points="445.3,317.5 448.0,316.5 449.8,317.0 448.5,319.5 446.0,319.5"/><polygon fill="#132b43" points="404.8,312.4 407.8,314.6 409.3,316.1 410.0,317.2 412.3,317.0 416.8,317.2 416.8,318.0 412.0,318.2 409.5,318.0 407.5,316.0"/><polygon fill="#132b43" points="420.5,317.5 423.0,316.0 425.0,315.8 424.0,318.5 421.5,318.8"/><polygon fill="#132b43" points="425.5,319.5 427.5,317.5 429.5,316.1 431.8,317.8 430.5,320.0 428.0,320.5 426.0,321.4"/><polygon fill="#132b43" points="437.8,304.5 440.0,305.0 439.5,306.8"/><polygon fill="#132b43" points="367.5,373.3 369.2,375.8 370.8,379.2 375.0,380.0 377.5,381.7 374.2,384.2 370.8,385.0 368.3,383.7 366.3,380.8 366.3,377.5"/><polygon fill="#132b43" points="378.3,384.2 380.8,385.0 380.8,386.5 378.8,385.8"/><polygon fill="#132b43" points="363.3,369.2 365.8,371.7 365.0,372.0"/><polygon fill="#132b43" points="365.0,391.7 368.3,392.5 368.0,395.0 365.5,394.5"/><polygon fill="#132b43" points="360.8,408.3 364.0,408.3 365.0,410.5 362.0,412.5 361.0,410.5"/><polygon fill="#132b43" points="399.0,374.5 402.0,375.5 406.0,376.0 409.5,376.3 409.0,378.0 404.0,378.0 400.0,377.0"/><polygon fill="#132b43" points="388.3,391.7 390.5,392.2 389.5,393.0 388.0,392.5"/><polygon fill="#132b43" points="392.5,393.0 395.0,393.5 394.0,394.5"/><polygon fill="#132b43" points="401.0,395.0 404.2,396.0 403.5,396.7 401.2,396.0"/><polygon fill="#132b43" points="415.0,407.5 416.7,408.5 415.8,409.2"/><polygon fill="#132b43" points="420.0,345.0 423.0,345.5 425.0,348.0 424.5,351.5 422.0,352.5 420.5,349.0"/><polygon fill="#132b43" points="425.0,372.0 428.0,371.5 431.0,371.8 434.5,371.5 435.3,375.0 434.0,378.5 431.0,381.5 427.5,382.8 425.0,381.0 424.8,376.0"/><polygon fill="#132b43" points="346.7,422.5 348.5,423.5 350.0,426.7 348.5,426.0"/><polygon fill="#132b43" points="340.0,412.5 342.0,411.7 343.3,413.0"/><polygon fill="#132b43" points="345.0,389.5 347.5,389.2 346.5,390.3"/><polygon fill="#29567d" points="445.8,371.7 449.3,370.5 451.3,372.2 454.2,374.0 457.2,375.7 459.5,374.9 460.1,377.5 459.5,380.4 460.7,382.7 461.8,385.1 461.8,388.0 460.9,389.7 459.5,387.4 458.3,384.5 457.2,382.7 454.2,382.2 452.5,383.3 451.3,385.1 450.2,383.9 449.3,385.7 448.1,387.4 446.7,389.2 444.9,387.4 444.3,385.7 445.2,384.2 444.3,383.0 446.1,381.9 447.5,381.0 447.2,378.7 446.7,375.7 445.8,373.4"/><polygon fill="#132b43" points="438.5,377.0 440.5,377.5 441.4,380.0 440.5,381.6 439.5,379.5"/></g>
<text x="740.6" y="186.8" font-size="21.5px" fill="#000">Population</text>
<rect x="740" y="205" width="48.2" height="239.5" fill="url(#lg)"/>
<g stroke="#fff" stroke-opacity="0.75" stroke-width="2"><line x1="740" y1="215.0" x2="749.6" y2="215.0"/><line x1="778.6" y1="215.0" x2="788.2" y2="215.0"/><line x1="740" y1="273.7" x2="749.6" y2="273.7"/><line x1="778.6" y1="273.7" x2="788.2" y2="273.7"/><line x1="740" y1="332.4" x2="749.6" y2="332.4"/><line x1="778.6" y1="332.4" x2="788.2" y2="332.4"/><line x1="740" y1="391.1" x2="749.6" y2="391.1"/><line x1="778.6" y1="391.1" x2="788.2" y2="391.1"/></g>
<g font-size="19.4px" fill="#000"><text x="804" y="215.0" dominant-baseline="central">800000</text><text x="804" y="273.7" dominant-baseline="central">600000</text><text x="804" y="332.4" dominant-baseline="central">400000</text><text x="804" y="391.1" dominant-baseline="central">200000</text></g>
</svg>
</body></html>
